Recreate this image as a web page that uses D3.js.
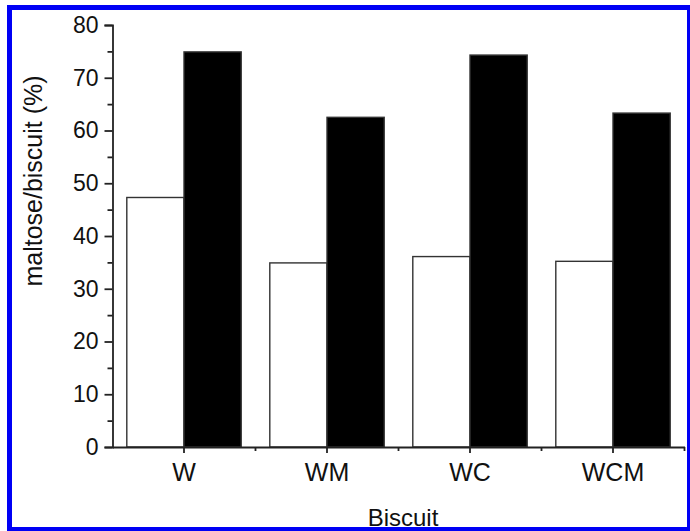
<!DOCTYPE html>
<html>
<head>
<meta charset="utf-8">
<script src="https://cdn.jsdelivr.net/npm/d3@7"></script>
<style>
  body { margin: 0; background: #fff; }
  text { font-family: "Liberation Sans", Arial, sans-serif; fill: #111; }
</style>
</head>
<body>
<div id="chart"></div>
<script>
// Datos
const categories = ["W", "WM", "WC", "WCM"];
const seriesKeys = ["white", "black"];
const whiteValues = [47.3, 34.9, 36.1, 35.2];
const blackValues = [74.9, 62.5, 74.3, 63.3];
const yTicks = [0, 10, 20, 30, 40, 50, 60, 70, 80];

const data = categories.map((c, i) => ({ category: c, white: whiteValues[i], black: blackValues[i] }));

const svgWidth = 690;
const svgHeight = 531;

const svg = d3.select("#chart")
    .append("svg")
    .attr("width", svgWidth)
    .attr("height", svgHeight);

svg.append("rect")
    .attr("width", svgWidth)
    .attr("height", svgHeight)
    .attr("fill", "#fff");

const plotLeft = 112.5, plotRight = 684.5, plotTop = 25, plotBottom = 447;

const x0 = d3.scaleBand()
    .domain(categories)
    .range([plotLeft, plotRight]);

const x1 = d3.scaleBand()
    .domain(seriesKeys)
    .range([x0.bandwidth() * 0.1, x0.bandwidth() * 0.9]);

const y = d3.scaleLinear()
    .domain([0, 80])
    .range([plotBottom, plotTop]);

const color = d3.scaleOrdinal()
    .domain(seriesKeys)
    .range(["#fff", "#000"]);

// Barras
svg.selectAll(".grp")
    .data(data)
    .enter().append("g")
    .attr("transform", d => `translate(${x0(d.category)},0)`)
    .selectAll("rect")
    .data(d => seriesKeys.map(key => ({ key, value: d[key] })))
    .enter().append("rect")
    .attr("x", d => x1(d.key))
    .attr("y", d => y(d.value))
    .attr("width", x1.bandwidth())
    .attr("height", d => plotBottom - y(d.value))
    .attr("fill", d => color(d.key))
    .attr("stroke", "#333")
    .attr("stroke-width", 1.4);

// Eje Y
const yAxis = svg.append("g")
    .attr("transform", `translate(${plotLeft},0)`)
    .call(d3.axisLeft(y).tickValues(yTicks).tickSize(8).tickPadding(6).tickFormat(d3.format("d")));
yAxis.select(".domain").attr("stroke", "#222").attr("stroke-width", 1.8);
yAxis.selectAll(".tick line").attr("stroke", "#222").attr("stroke-width", 1.8);
yAxis.selectAll("text").attr("font-size", 23).attr("fill", "#111")
    .attr("font-family", "Liberation Sans, Arial, sans-serif");

// ticks menores Y
svg.append("g")
    .attr("transform", `translate(${plotLeft},0)`)
    .call(d3.axisLeft(y).tickValues(yTicks.slice(0, -1).map(v => v + 5)).tickSize(5).tickFormat(""))
    .call(g => g.select(".domain").remove())
    .selectAll("line").attr("stroke", "#222").attr("stroke-width", 1.8);

// Eje X
const xAxis = svg.append("g")
    .attr("transform", `translate(0,${plotBottom})`)
    .call(d3.axisBottom(x0).tickSize(6).tickPadding(10).tickSizeOuter(0));
xAxis.select(".domain").attr("stroke", "#222").attr("stroke-width", 1.8);
xAxis.selectAll(".tick line").attr("stroke", "#222").attr("stroke-width", 1.8);
xAxis.selectAll("text").attr("font-size", 25).attr("fill", "#111")
    .attr("font-family", "Liberation Sans, Arial, sans-serif");

// ticks menores X (límites de categoría)
svg.append("g")
    .attr("transform", `translate(0,${plotBottom})`)
    .selectAll("line")
    .data(categories)
    .enter().append("line")
    .attr("x1", d => x0(d) + x0.bandwidth())
    .attr("x2", d => x0(d) + x0.bandwidth())
    .attr("y1", 0)
    .attr("y2", 4)
    .attr("stroke", "#222")
    .attr("stroke-width", 1.8);

// Títulos
svg.append("text")
    .attr("x", 403)
    .attr("y", 526)
    .attr("text-anchor", "middle")
    .attr("font-size", 24)
    .text("Biscuit");

svg.append("text")
    .attr("transform", `translate(42,181) rotate(-90)`)
    .attr("text-anchor", "middle")
    .attr("font-size", 25)
    .text("maltose/biscuit (%)");

// borde azul
svg.append("rect")
    .attr("x", 9.5)
    .attr("y", 7.5)
    .attr("width", 680)
    .attr("height", 522)
    .attr("fill", "none")
    .attr("stroke", "#0000f5")
    .attr("stroke-width", 5);
</script>
</body>
</html>
